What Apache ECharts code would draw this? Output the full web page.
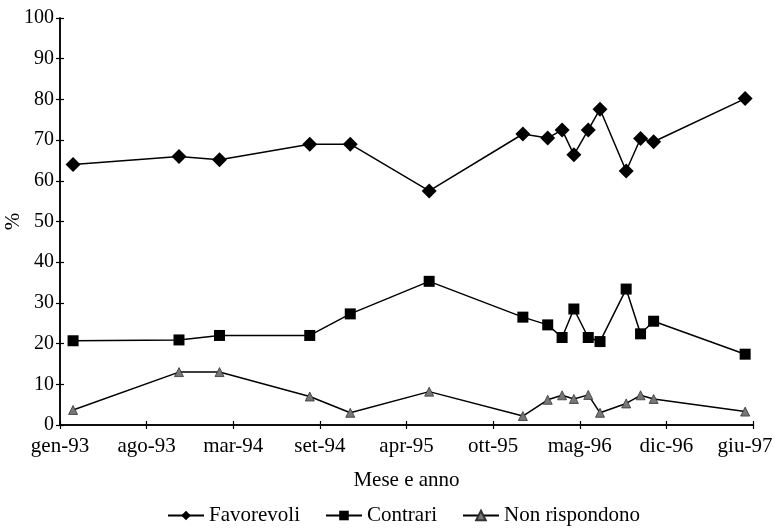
<!DOCTYPE html>
<html>
<head>
<meta charset="utf-8">
<script src="https://cdn.jsdelivr.net/npm/echarts@6/dist/echarts.min.js"></script>
<style>html,body{margin:0;padding:0;background:#fff}#c{width:775px;height:532px}</style>
</head>
<body>
<div id="c"></div>
<script>
// Survey dates
const surveyDates = ["1993-02-01","1993-10-04","1994-01-07","1994-08-04","1994-11-07","1995-05-08","1995-12-13","1996-02-10","1996-03-13","1996-04-10","1996-05-13","1996-06-10","1996-08-10","1996-09-13","1996-10-13","1997-05-13"];
const favorevoli = [64,66,65.2,69,69,57.5,71.5,70.5,72.5,66.4,72.5,77.6,62.4,70.4,69.6,80.2];
const contrari = [20.7,20.9,22,22,27.3,35.3,26.5,24.6,21.5,28.5,21.5,20.5,33.4,22.4,25.5,17.4];
const nonRispondono = [3.7,13,13,7,3,8.2,2.2,6.2,7.3,6.4,7.4,3,5.3,7.3,6.4,3.3];
const tickLabels = ["gen-93","ago-93","mar-94","set-94","apr-95","ott-95","mag-96","dic-96","giu-97"];
const yTicks = [0,10,20,30,40,50,60,70,80,90,100];

// months elapsed since January 1993
function monthsFrom93(s){const p=s.split('-').map(Number);return (p[0]-1993)*12+(p[1]-1)+(p[2]-1)/30;}
const xs = surveyDates.map(monthsFrom93);
const pair = arr => arr.map((v,i)=>[xs[i],v]);
const X_MAX = 53, X_INT = X_MAX/(tickLabels.length-1);
const font = "'Liberation Serif', 'DejaVu Serif', serif";

const chart = echarts.init(document.getElementById('c'));
const axisCommon = {
  axisLine:{show:true,lineStyle:{color:'#000',width:1.5}},
  splitLine:{show:false}
};
chart.setOption({
  animation:false,
  textStyle:{fontFamily:font,color:'#000'},
  grid:{left:60,right:22,top:18,bottom:107,containLabel:false,outerBoundsMode:'none'},
  xAxis:[
    Object.assign({type:'value',min:0,max:X_MAX,interval:X_INT,
      axisTick:{show:true,length:4,lineStyle:{color:'#000',width:1.2}},
      axisLabel:{fontFamily:font,fontSize:21,color:'#000',margin:11,
        formatter:v=>{const i=Math.round(v/X_INT);const t=tickLabels[i]||'';return i===tickLabels.length-1?'{last|'+t+'}':t;},
        rich:{last:{fontFamily:font,fontSize:21,color:'#000',padding:[0,16,0,0]}}},
      name:'Mese e anno',nameLocation:'middle',nameGap:45,nameMoveOverlap:false,
      nameTextStyle:{fontFamily:font,fontSize:21,color:'#000'}},axisCommon),
    Object.assign({type:'value',min:0,max:X_MAX,interval:X_INT,position:'bottom',
      axisTick:{show:true,inside:true,length:4,lineStyle:{color:'#000',width:1.2}},
      axisLabel:{show:false}},axisCommon)
  ],
  yAxis:[
    Object.assign({type:'value',min:yTicks[0],max:yTicks[yTicks.length-1],interval:10,
      axisTick:{show:true,length:4,lineStyle:{color:'#000',width:1.2}},
      axisLabel:{fontFamily:font,fontSize:20,color:'#000',margin:6},
      name:'%',nameLocation:'middle',nameGap:36,nameMoveOverlap:false,
      nameTextStyle:{fontFamily:font,fontSize:21,color:'#000'}},axisCommon),
    Object.assign({type:'value',min:0,max:100,interval:10,position:'left',
      axisTick:{show:true,inside:true,length:4,lineStyle:{color:'#000',width:1.2}},
      axisLabel:{show:false}},axisCommon)
  ],
  legend:{bottom:1,left:162,itemWidth:36,itemHeight:12,itemGap:25,
    textStyle:{fontFamily:font,fontSize:21,color:'#000'},
    data:['Favorevoli','Contrari','Non rispondono']},
  series:[
    {name:'Favorevoli',type:'line',data:pair(favorevoli),symbol:'diamond',symbolSize:15,
      lineStyle:{color:'#000',width:1.5},itemStyle:{color:'#000'}},
    {name:'Contrari',type:'line',data:pair(contrari),symbol:'rect',symbolSize:11,
      lineStyle:{color:'#000',width:1.5},itemStyle:{color:'#000'}},
    {name:'Non rispondono',type:'line',data:pair(nonRispondono),symbol:'triangle',symbolSize:9,
      lineStyle:{color:'#000',width:1.5},itemStyle:{color:'#777',borderColor:'#333',borderWidth:0.8}}
  ]
});
</script>
</body>
</html>
